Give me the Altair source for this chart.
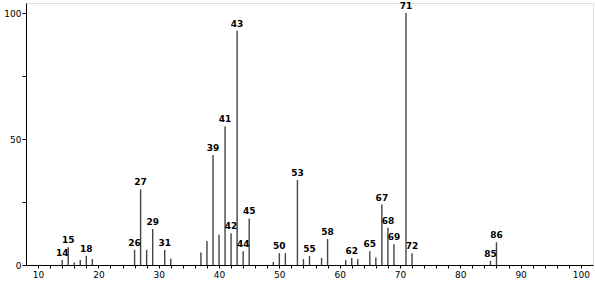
import altair as alt
import pandas as pd

mz = [14, 15, 16, 17, 18, 19, 26, 27, 28, 29, 31, 32, 37, 38, 39, 40, 41, 42, 43, 44, 45,
      49, 50, 51, 53, 54, 55, 57, 58, 61, 62, 63, 65, 66, 67, 68, 69, 71, 72, 85, 86]
intensity = [2.0, 7.0, 1.0, 2.0, 3.6, 2.4, 6.0, 30.0, 6.0, 14.3, 6.0, 2.5, 5.0, 9.5, 43.7, 12.0,
             55.0, 12.6, 93.0, 5.5, 18.5, 1.2, 4.7, 4.7, 33.7, 2.4, 3.6, 2.8, 10.3, 2.0, 2.8,
             2.4, 5.5, 3.0, 24.0, 14.8, 8.2, 100.0, 4.7, 1.6, 9.0]
labeled = [14, 15, 18, 26, 27, 29, 31, 39, 41, 42, 43, 44, 45, 50, 53, 55, 58, 62, 65,
           67, 68, 69, 71, 72, 85, 86]

x_ticks = list(range(10, 101, 2))
y_ticks = [0, 25, 50, 75, 100]

df = pd.DataFrame({"mz": mz, "intensity": intensity})
df["label"] = [str(m) if m in labeled else "" for m in mz]

xs = alt.Scale(domain=[8, 102], nice=False, zero=False)
ys = alt.Scale(domain=[0, 104], nice=False)

font = "DejaVu Sans"

x_axis = alt.Axis(values=x_ticks,
                  labelExpr="datum.value % 10 == 0 ? format(datum.value, 'd') : ''",
                  tickSize=3, tickColor="black", domainColor="black", labelFont=font,
                  labelFontSize=9, labelColor="black", title=None, grid=False, labelPadding=2,
                  tickWidth=1, domainWidth=1, labelOverlap=False, labelFlush=False,
                  labelBound=False)
y_axis = alt.Axis(values=y_ticks,
                  labelExpr="datum.value % 50 == 0 ? format(datum.value, 'd') : ''",
                  tickSize=4, tickColor="black", domainColor="black", labelFont=font,
                  labelFontSize=9, labelColor="black", title=None, grid=False, labelPadding=1,
                  tickWidth=1, domainWidth=1, labelOverlap=False, labelFlush=False)

bars = alt.Chart(df).mark_rule(color="#444444", strokeWidth=1.4).encode(
    x=alt.X("mz:Q", scale=xs, axis=x_axis),
    y=alt.Y("intensity:Q", scale=ys, axis=y_axis),
    y2=alt.datum(0),
)

labels = alt.Chart(df).mark_text(font=font, fontSize=9, color="black", baseline="bottom",
                                 dy=-2, fontWeight="bold").encode(
    x=alt.X("mz:Q", scale=xs, axis=x_axis),
    y=alt.Y("intensity:Q", scale=ys, axis=y_axis),
    text="label:N",
)

chart = alt.layer(bars, labels).properties(
    width=567, height=262,
    autosize=alt.AutoSizeParams(type="none"),
    padding={"left": 26, "top": 3, "right": 2, "bottom": 17},
).configure_view(stroke=None).configure_axis(labelOverlap=False).configure(background="white")

chart.save("out.html", embed_options={"renderer": "svg", "actions": False})
